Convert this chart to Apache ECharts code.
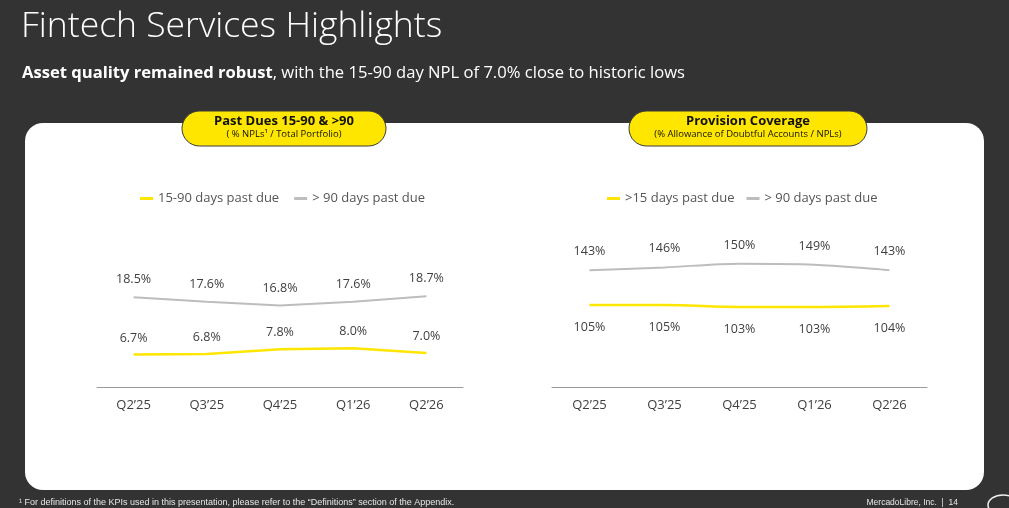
<!DOCTYPE html>
<html>
<head>
<meta charset="utf-8">
<script src="https://cdn.jsdelivr.net/npm/echarts@6/dist/echarts.min.js"></script>
<style>
html,body{margin:0;padding:0;background:#333333;}
#chart{width:1009px;height:508px;}
</style>
</head>
<body>
<div id="chart"></div>
<script>
// ---- Data ----
var categories = ["Q2\u201925", "Q3\u201925", "Q4\u201925", "Q1\u201926", "Q2\u201926"];
var pastDue15to90 = [6.7, 6.8, 7.8, 8.0, 7.0];
var pastDueOver90 = [18.5, 17.6, 16.8, 17.6, 18.7];
var coverageOver15 = [105, 105, 103, 103, 104];
var coverageOver90 = [143, 146, 150, 149, 143];

var YELLOW = '#FFE600';
var GRAY = '#BDBDBD';
var FONT = 'Open Sans';
var TXT = '#3f3f3f';

var chart = echarts.init(document.getElementById('chart'));

function pct1(p){ return p.value.toFixed(1) + '%'; }
function pct0(p){ return Math.round(p.value) + '%'; }

var labelBase = {show: true, color: TXT, fontSize: 12.5, fontFamily: FONT};

function lineSeries(name, xi, data, color, width, smooth, pos, dist, fmt) {
  return {
    name: name, type: 'line', xAxisIndex: xi, yAxisIndex: xi, data: data,
    showSymbol: true, symbol: 'circle', symbolSize: 0.01, smooth: smooth,
    lineStyle: {color: color, width: width}, itemStyle: {color: color},
    label: Object.assign({}, labelBase, {position: pos, distance: dist, formatter: fmt}),
    emphasis: {disabled: true}
  };
}

var option = {
  backgroundColor: '#333333',
  animation: false,
  textStyle: {fontFamily: FONT},
  graphic: [
    {type:'rect', z:0, shape:{x:25, y:123, width:959, height:367, r:18}, style:{fill:'#ffffff'}},
    {type:'text', z:1, style:{x:21, y:27, text:'Fintech Services Highlights', fill:'#ffffff', font:'300 35.5px "Open Sans"', textVerticalAlign:'middle'}},
    {type:'text', z:1, style:{x:22, y:73, textVerticalAlign:'middle',
      text:'{b|Asset quality remained robust}{n|, with the 15-90 day NPL of 7.0% close to historic lows}',
      rich:{b:{fontWeight:'bold', fontSize:16.6, fill:'#fff', fontFamily:FONT}, n:{fontSize:16.6, fill:'#fff', fontFamily:FONT}}}},
    // Pill 1
    {type:'rect', z:5, shape:{x:182, y:111, width:204, height:35, r:17.5}, style:{fill:YELLOW, stroke:'#3a3a3a', lineWidth:1}},
    {type:'text', z:6, style:{x:284, y:121, text:'Past Dues 15-90 & >90', fill:'#111', font:'bold 13px "Open Sans"', textAlign:'center', textVerticalAlign:'middle'}},
    {type:'text', z:6, style:{x:284, y:134.5, text:'( % NPLs\u00b9 / Total Portfolio)', fill:'#111', font:'9.5px "Open Sans"', textAlign:'center', textVerticalAlign:'middle'}},
    // Pill 2
    {type:'rect', z:5, shape:{x:629, y:111, width:238, height:35, r:17.5}, style:{fill:YELLOW, stroke:'#3a3a3a', lineWidth:1}},
    {type:'text', z:6, style:{x:748, y:121, text:'Provision Coverage', fill:'#111', font:'bold 13px "Open Sans"', textAlign:'center', textVerticalAlign:'middle'}},
    {type:'text', z:6, style:{x:748, y:134.5, text:'(% Allowance of Doubtful Accounts / NPLs)', fill:'#111', font:'9.5px "Open Sans"', textAlign:'center', textVerticalAlign:'middle'}},
    // Footer
    {type:'text', z:1, style:{x:19, y:503, text:'\u00b9 For definitions of the KPIs used in this presentation, please refer to the \u201cDefinitions\u201d section of the Appendix.', fill:'#e6e6e6', font:'9px "Liberation Sans Narrow", "Liberation Sans"', textVerticalAlign:'middle'}},
    {type:'text', z:1, style:{x:958, y:503, text:'MercadoLibre, Inc.  |  14', fill:'#e6e6e6', font:'8.5px "Liberation Sans Narrow", "Liberation Sans"', textAlign:'right', textVerticalAlign:'middle'}},
    {type:'ellipse', z:1, shape:{cx:1003, cy:505, rx:15, ry:10}, style:{fill:'none', stroke:'#f0f0f0', lineWidth:1.5}}
  ],
  legend: [
    {left:135, top:187, itemWidth:13, itemHeight:3, itemGap:15, icon:'rect',
     textStyle:{color:'#555', fontSize:13, fontFamily:FONT},
     data:['15-90 days past due', '> 90 days past due']},
    {left:602, top:187, itemWidth:13, itemHeight:3, itemGap:12, icon:'rect',
     textStyle:{color:'#555', fontSize:13, fontFamily:FONT},
     data:['>15 days past due', '> 90 days past due ']}
  ],
  grid: [
    {left:97, width:366, top:193, height:194},
    {left:552, width:375, top:203, height:184}
  ],
  xAxis: [
    {type:'category', gridIndex:0, data:categories, boundaryGap:true,
     axisLine:{lineStyle:{color:'#9a9a9a', width:1}}, axisTick:{show:false},
     axisLabel:{color:TXT, fontSize:13, margin:12, fontFamily:FONT}},
    {type:'category', gridIndex:1, data:categories, boundaryGap:true,
     axisLine:{lineStyle:{color:'#9a9a9a', width:1}}, axisTick:{show:false},
     axisLabel:{color:TXT, fontSize:13, margin:12, fontFamily:FONT}}
  ],
  yAxis: [
    {type:'value', gridIndex:0, min:0, max:40, show:false},
    {type:'value', gridIndex:1, min:16, max:216, show:false}
  ],
  series: [
    lineSeries('15-90 days past due', 0, pastDue15to90, YELLOW, 2.5, false, 'top', 10, pct1),
    lineSeries('> 90 days past due', 0, pastDueOver90, GRAY, 2, false, 'top', 11, pct1),
    lineSeries('>15 days past due', 1, coverageOver15, YELLOW, 2.5, 0.3, 'bottom', 16, pct0),
    lineSeries('> 90 days past due ', 1, coverageOver90, GRAY, 2, 0.3, 'top', 12, pct0)
  ]
};
chart.setOption(option);
</script>
</body>
</html>
